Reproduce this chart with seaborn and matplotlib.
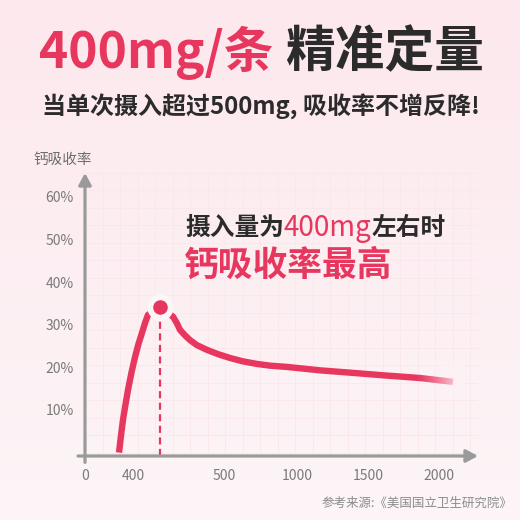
import numpy as np
import matplotlib
matplotlib.use("Agg")
import matplotlib.pyplot as plt
from matplotlib.colors import to_rgb
from matplotlib.ticker import MultipleLocator
import seaborn as sns

sns.set_style("white")
plt.rcParams['font.family'] = ['Noto Sans CJK SC', 'DejaVu Sans']

# data (x = position along the axis, y = absorption %)
curve_x = [34, 36, 38, 40.5, 43, 46.5, 50, 53.5, 57, 60, 63, 75,
           88, 92, 95, 100, 105, 112, 122, 133, 145, 158, 172, 185,
           202, 235, 268, 300, 335, 368]
curve_y = [0, 4, 7.7, 11.3, 14.7, 18.8, 22.4, 25.5, 28.1, 30.4, 32.3, 34.2,
           31.9, 30.3, 28.8, 27.5, 26.4, 25.2, 24.1, 23.1, 22.2, 21.4, 20.8, 20.4,
           20.1, 19.3, 18.7, 18.1, 17.5, 16.6]
peak_x, peak_y = 75, 34.2

x_tick_pos = [0, 48, 139, 212, 283, 354]
x_tick_labels = ["0", "400", "500", "1000", "1500", "2000"]
y_ticks = [10, 20, 30, 40, 50, 60]
y_tick_labels = ["10%", "20%", "30%", "40%", "50%", "60%"]

PINK = "#e8375f"
DARK = "#2b2b2b"
AXIS = "#9a9a9a"
TICK = "#7a7a7a"
BG_TOP = "#fce8ed"
BG_BOT = "#fdf5f7"

fig = plt.figure(figsize=(5.2, 5.2), dpi=100)

# background gradient
bg = fig.add_axes([0, 0, 1, 1], zorder=-5)
grad = np.linspace(0, 1, 256)[:, None, None]
img = (1 - grad) * np.array(to_rgb(BG_TOP)) + grad * np.array(to_rgb(BG_BOT))
bg.imshow(img, aspect="auto", extent=[0, 1, 0, 1])
bg.axis("off")

W = H = 520.0
ax = fig.add_axes([85 / W, 64 / H, 393 / W, 283 / H])
ax.set_facecolor("none")
ax.set_xlim(0, 393)
ax.set_ylim(-0.8, 65.6)
for s in ax.spines.values():
    s.set_visible(False)

# faint grid
ax.xaxis.set_minor_locator(MultipleLocator(17.5))
ax.yaxis.set_minor_locator(MultipleLocator(4.1))
ax.grid(which="minor", color="#fae7eb", lw=0.6)
ax.grid(which="major", visible=False)

ax.set_xticks(x_tick_pos, x_tick_labels)
ax.set_yticks(y_ticks, y_tick_labels)
ax.tick_params(axis="both", length=0, labelsize=10, labelcolor=TICK)
ax.tick_params(axis="x", pad=9)
ax.tick_params(axis="y", pad=8)
ax.set_xlabel("")
ax.set_ylabel("")

# axes with arrows
arrow = dict(arrowstyle="-|>,head_length=0.7,head_width=0.38", color=AXIS, lw=2.3,
             shrinkA=0, shrinkB=0)
ax.annotate("", xy=(0, 65.6), xytext=(0, -2.3), arrowprops=arrow, annotation_clip=False)
ax.annotate("", xy=(393, -0.8), xytext=(-7, -0.8), arrowprops=arrow, annotation_clip=False)

# curve
sns.lineplot(x=curve_x, y=curve_y, sort=False, color=PINK, lw=4.6, ax=ax,
             solid_capstyle="butt", solid_joinstyle="round", zorder=3)

# fade the tail into the background
fade = np.linspace(0, 1, 64)[None, :]
rgba = np.zeros((1, 64, 4))
rgba[..., :3] = to_rgb("#fdf3f6")
rgba[..., 3] = fade ** 1.3
ax.imshow(rgba, extent=[330, 380, 13, 21], aspect="auto", zorder=4)

# peak marker, dashed drop line
ax.plot([peak_x, peak_x], [-0.8, peak_y - 2.5], color=PINK, lw=1.6,
        dashes=(3.2, 2.0), zorder=2)
ax.scatter([peak_x], [peak_y], s=360, color="#fdf6f8", zorder=5, linewidths=0)
ax.scatter([peak_x], [peak_y], s=110, color=PINK, zorder=6, linewidths=0)


def put_pieces(x_px, y_px, pieces):
    r = fig.canvas.get_renderer()
    x = x_px
    for s, color, size, weight in pieces:
        t = fig.text(x / W, 1 - y_px / H, s, color=color, fontsize=size,
                     fontweight=weight, va="center", ha="left")
        x += t.get_window_extent(r).width


put_pieces(39, 53, [("400mg/条 ", PINK, 35.8, "bold"), ("精准定量", DARK, 35.8, "bold")])
put_pieces(42, 106, [("当单次摄入超过500mg, 吸收率不增反降!", DARK, 17.3, "bold")])
put_pieces(185, 228, [("摄入量为", DARK, 17.8, "bold"), ("400mg", PINK, 20, "medium"),
                      ("左右时", DARK, 17.8, "bold")])
put_pieces(184, 265, [("钙吸收率最高", PINK, 25, "bold")])

fig.text(33 / W, 1 - 160 / H, "钙吸收率", color="#6e6e6e", fontsize=10.5,
         va="center", ha="left")
fig.text(512 / W, 1 - 503 / H, "参考来源:《美国国立卫生研究院》", color="#8c8c8c",
         fontsize=9, va="center", ha="right")

fig.savefig("out.png", dpi=100)
